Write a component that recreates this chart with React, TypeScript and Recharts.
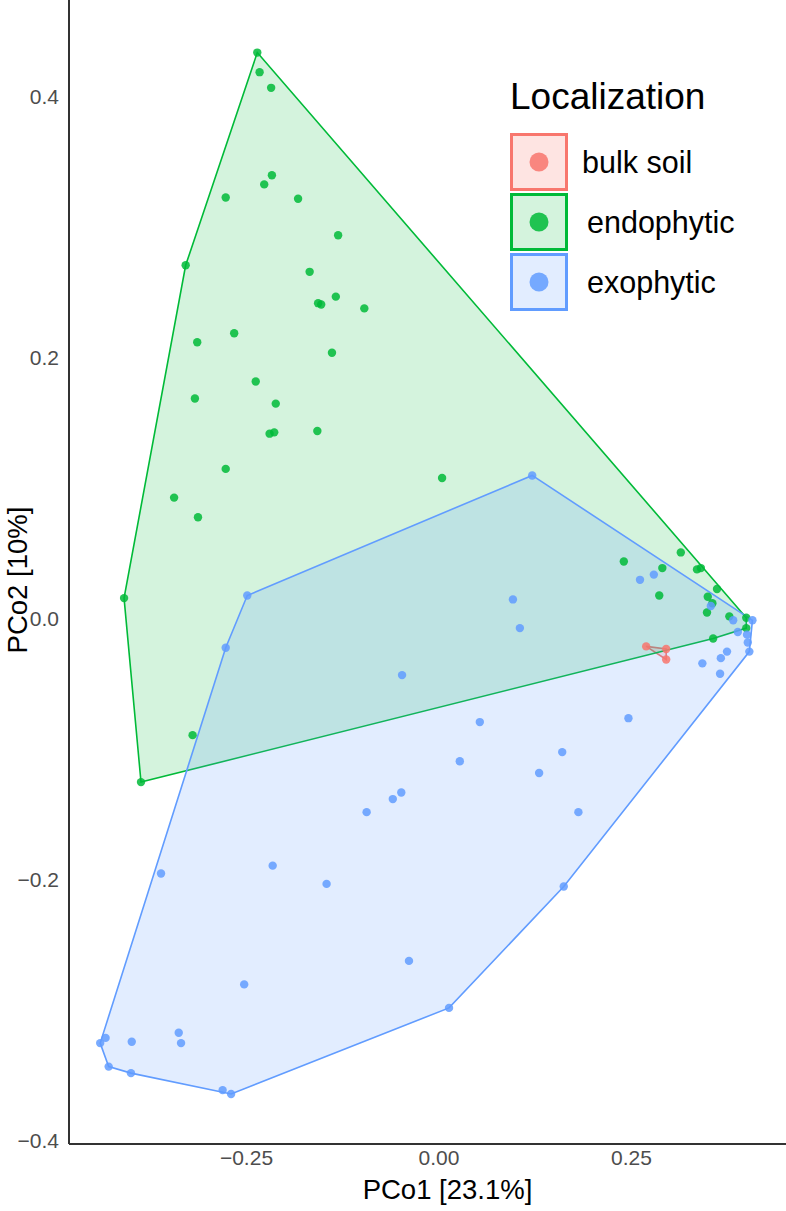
import { ScatterChart, Scatter, XAxis, YAxis, Legend, Label } from "recharts"

// PCoA coordinates per localization group, [PCo1, PCo2]
const bulkSoil = [
  [0.269, -0.021], [0.295, -0.023], [0.295, -0.031],
]

const endophytic = [
  [-0.236, 0.434], [-0.233, 0.419], [-0.218, 0.407], [-0.277, 0.323], [-0.227, 0.333],
  [-0.217, 0.34], [-0.183, 0.322], [-0.329, 0.271], [-0.131, 0.294], [-0.168, 0.266],
  [-0.134, 0.247], [-0.157, 0.242], [-0.153, 0.241], [-0.097, 0.238], [-0.266, 0.219],
  [-0.314, 0.212], [-0.139, 0.204], [-0.238, 0.182], [-0.317, 0.169], [-0.212, 0.165],
  [-0.22, 0.142], [-0.214, 0.143], [-0.158, 0.144], [-0.277, 0.115], [-0.344, 0.093],
  [-0.313, 0.078], [0.004, 0.108], [-0.409, 0.016], [-0.387, -0.125], [-0.32, -0.089],
  [0.24, 0.044], [0.29, 0.039], [0.314, 0.051], [0.335, 0.038], [0.34, 0.039],
  [0.361, 0.023], [0.286, 0.018], [0.349, 0.017], [0.355, 0.012], [0.348, 0.005],
  [0.377, 0.002], [0.399, 0.001], [0.399, -0.007], [0.356, -0.015],
]

const exophytic = [
  [0.121, 0.11], [-0.249, 0.018], [-0.277, -0.022], [0.279, 0.034], [0.261, 0.03],
  [0.096, 0.015], [0.105, -0.007], [-0.048, -0.043], [0.053, -0.079], [0.246, -0.076],
  [0.027, -0.109], [0.16, -0.102], [0.13, -0.118], [-0.049, -0.133], [-0.06, -0.138],
  [-0.094, -0.148], [0.181, -0.148], [0.162, -0.205], [-0.039, -0.262], [0.013, -0.298],
  [-0.361, -0.195], [-0.216, -0.189], [-0.146, -0.203], [-0.253, -0.28], [-0.44, -0.325],
  [-0.433, -0.321], [-0.399, -0.324], [-0.338, -0.317], [-0.335, -0.325], [-0.429, -0.343],
  [-0.4, -0.348], [-0.281, -0.361], [-0.27, -0.364], [0.353, 0.01], [0.382, -0.001],
  [0.407, -0.001], [0.388, -0.01], [0.4, -0.012], [0.401, -0.018], [0.403, -0.025],
  [0.374, -0.025], [0.366, -0.03], [0.342, -0.034], [0.365, -0.042],
]

const xTicks = [-0.25, 0, 0.25]
const yTicks = [-0.4, -0.2, 0, 0.2, 0.4]

const groups = [
  { name: "bulk soil", color: "#F8766D", fill: "rgba(248,118,109,0.2)", pts: bulkSoil },
  { name: "endophytic", color: "#00BA38", fill: "rgba(0,186,56,0.17)", pts: endophytic },
  { name: "exophytic", color: "#619CFF", fill: "rgba(97,156,255,0.18)", pts: exophytic },
]

const FONT = "'Liberation Sans', Arial, sans-serif"

const toObj = (p: number[]) => ({ x: p[0], y: p[1] })

// convex hull (monotone chain), same idea as chull() in R
function hull(pts: number[][]) {
  const p = [...pts].sort((a, b) => a[0] - b[0] || a[1] - b[1])
  const cross = (o: number[], a: number[], b: number[]) =>
    (a[0] - o[0]) * (b[1] - o[1]) - (a[1] - o[1]) * (b[0] - o[0])
  const lower: number[][] = []
  for (const q of p) {
    while (lower.length >= 2 && cross(lower[lower.length - 2], lower[lower.length - 1], q) <= 0) lower.pop()
    lower.push(q)
  }
  const upper: number[][] = []
  for (let i = p.length - 1; i >= 0; i--) {
    const q = p[i]
    while (upper.length >= 2 && cross(upper[upper.length - 2], upper[upper.length - 1], q) <= 0) upper.pop()
    upper.push(q)
  }
  return lower.slice(0, -1).concat(upper.slice(0, -1))
}

const fmtMinus = (v: number, d: number) => (v < 0 ? "\u2212" + Math.abs(v).toFixed(d) : v.toFixed(d))

function renderLegend() {
  return (
    <div style={{ fontFamily: FONT, color: "#000" }}>
      <div style={{ fontSize: 37, lineHeight: "42px", marginBottom: 14, marginLeft: 0 }}>Localization</div>
      {groups.map((g, i) => (
        <div key={g.name} style={{ display: "flex", alignItems: "center", height: 60 }}>
          <svg width={58} height={58}>
            <rect x={1.5} y={1.5} width={55} height={55} fill={g.fill} stroke={g.color} strokeWidth={3} />
            <circle cx={29} cy={29} r={9.5} fill={g.color} fillOpacity={0.85} />
          </svg>
          <span style={{ fontSize: 30.5, marginLeft: i === 0 ? 14 : 19 }}>{g.name}</span>
        </div>
      ))}
    </div>
  )
}

const dot = (color: string) => (props: any) =>
  <circle cx={props.cx} cy={props.cy} r={4.2} fill={color} fillOpacity={0.85} />

export default function App() {
  return (
    <div style={{ position: "absolute", left: 0, top: 0, width: 786, height: 1211, background: "#fff" }}>
      <ScatterChart width={786} height={1211} margin={{ top: 0, right: 0, bottom: 0, left: 0 }}>
        <XAxis
          type="number"
          dataKey="x"
          domain={[-0.4805, 0.4506]}
          allowDataOverflow
          ticks={xTicks}
          tickFormatter={(v) => fmtMinus(v, 2)}
          height={67}
          tickLine={false}
          tickMargin={0}
          axisLine={{ stroke: "#333", strokeWidth: 2 }}
          tick={{ fill: "#4d4d4d", fontSize: 21, fontFamily: FONT }}
        >
          <Label
            content={(p: any) => (
              <text x={p.viewBox.x + p.viewBox.width / 2 + 20} y={1199} textAnchor="middle" fontSize={27.5} fontFamily={FONT} fill="#000">
                PCo1 [23.1%]
              </text>
            )}
          />
        </XAxis>
        <YAxis
          type="number"
          dataKey="y"
          domain={[-0.4023, 0.4743]}
          allowDataOverflow
          ticks={yTicks}
          tickFormatter={(v) => fmtMinus(v, 1)}
          width={69}
          tickLine={false}
          tickMargin={4}
          axisLine={{ stroke: "#333", strokeWidth: 2 }}
          tick={{ fill: "#4d4d4d", fontSize: 21, fontFamily: FONT }}
        >
          <Label
            content={() => (
              <text x={0} y={0} transform="translate(27,580) rotate(-90)" textAnchor="middle" fontSize={27.5} fontFamily={FONT} fill="#000">
                PCo2 [10%]
              </text>
            )}
          />
        </YAxis>
        <Legend
          layout="vertical"
          align="center"
          verticalAlign="middle"
          content={renderLegend}
          wrapperStyle={{ left: 510, top: 76, width: 270 }}
        />
        {groups.map((g) => (
          <Scatter
            key={"hull-" + g.name}
            data={hull(g.pts).map(toObj)}
            line={{ stroke: g.color, strokeWidth: 1.6, fill: g.fill }}
            lineJointType="linearClosed"
            shape={() => <g />}
            legendType="none"
            isAnimationActive={false}
          />
        ))}
        {groups.map((g) => (
          <Scatter
            key={"pts-" + g.name}
            name={g.name}
            data={g.pts.map(toObj)}
            shape={dot(g.color)}
            isAnimationActive={false}
          />
        ))}
      </ScatterChart>
    </div>
  )
}
